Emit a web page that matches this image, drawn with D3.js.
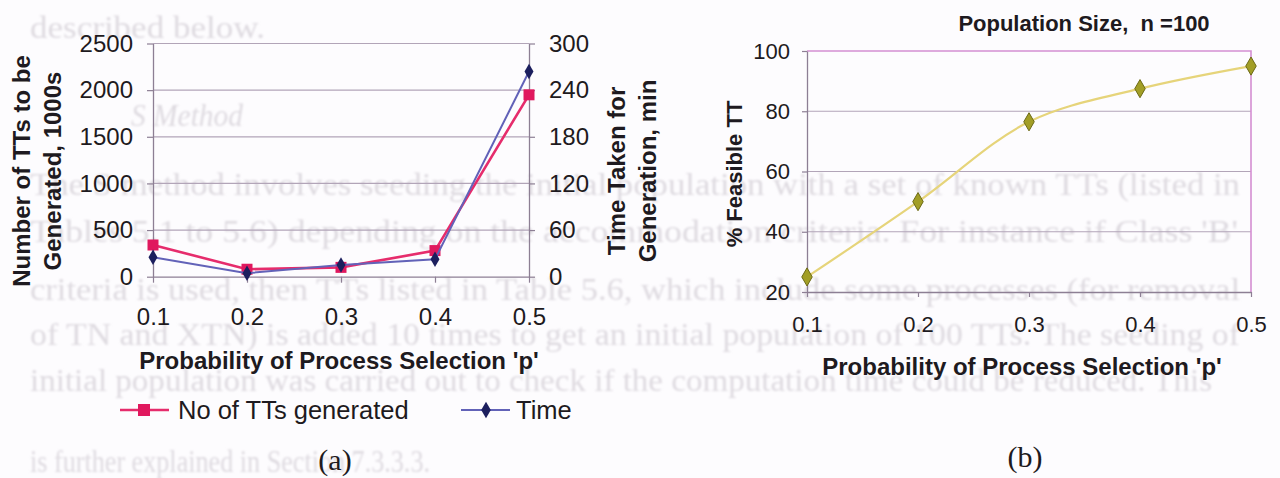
<!DOCTYPE html>
<html>
<head>
<meta charset="utf-8">
<script src="https://cdn.jsdelivr.net/npm/d3@7"></script>
<style>
  html, body { margin: 0; padding: 0; background: #fdfcfe; }
  svg { display: block; }
  text { font-family: "Liberation Sans", Arial, sans-serif; fill: #1e1a20; }
  .serif { font-family: "Liberation Serif", "Times New Roman", serif; }
</style>
</head>
<body>
<svg id="fig" width="1280" height="478"></svg>
<script>
// Probability of process selection (shared category axis)
const categories = ["0.1", "0.2", "0.3", "0.4", "0.5"];

// (a) number of timetables generated (1000s) and generation time (min)
const ttsGenerated = [340, 80, 100, 280, 1950];
const timeTaken = [25, 4.5, 15, 22.4, 264];
const ttsTicks = [0, 500, 1000, 1500, 2000, 2500];
const timeTicks = [0, 60, 120, 180, 240, 300];

// (b) percentage of feasible timetables, population size n = 100
const feasiblePct = [25, 50, 76.5, 87.5, 95];
const feasibleTicks = [20, 40, 60, 80, 100];

// Running text of the page printed behind the figures
const pageLines = [
  "described below.",
  "S Method",
  "The S method involves seeding the initial population with a set of known TTs (listed in",
  "Tables 5.1 to 5.6) depending on the accommodation criteria. For instance if Class 'B'",
  "criteria is used, then TTs listed in Table 5.6, which include some processes (for removal",
  "of TN and XTN) is added 10 times to get an initial population of 100 TTs. The seeding of",
  "initial population was carried out to check if the computation time could be reduced. This",
  "is further explained in Section 7.3.3.3."
];
const pageLayout = [
  { x: 30, y: 38, w: 235 },
  { x: 131, y: 126, w: 112, italic: true },
  { x: 30, y: 195, w: 1210 },
  { x: 30, y: 242, w: 1208 },
  { x: 30, y: 300, w: 1210 },
  { x: 30, y: 345, w: 1210 },
  { x: 30, y: 391, w: 1182 },
  { x: 30, y: 472, w: 400 }
];

const svg = d3.select("#fig");
const defs = svg.append("defs");
defs.append("filter").attr("id", "soft")
  .append("feGaussianBlur").attr("stdDeviation", 0.9);

// ---------- faint page text ----------
svg.append("g").attr("filter", "url(#soft)")
  .selectAll("text").data(pageLines).join("text")
  .attr("class", "serif")
  .attr("x", (d, i) => pageLayout[i].x)
  .attr("y", (d, i) => pageLayout[i].y)
  .attr("textLength", (d, i) => pageLayout[i].w)
  .attr("lengthAdjust", "spacingAndGlyphs")
  .style("font-size", "31px")
  .style("font-style", (d, i) => pageLayout[i].italic ? "italic" : "normal")
  .style("fill", "#dedae0")
  .text(d => d);

const gridCol = "#b2a5b8";
const axisCol = "#8d7f94";

function styleAxis(g, size) {
  g.select(".domain").attr("stroke", axisCol).attr("stroke-width", 1.3);
  g.selectAll(".tick line").attr("stroke", axisCol).attr("stroke-width", 1.2);
  g.selectAll(".tick text").style("font-size", size + "px").style("fill", "#1e1a20")
    .style("font-family", '"Liberation Sans", Arial, sans-serif');
}

// ================= (a) =================
const xA = d3.scalePoint().domain(categories).range([153, 529]);
const yTT = d3.scaleLinear().domain([0, 2500]).range([276.7, 43.5]);
const yTime = d3.scaleLinear().domain([0, 300]).range([276.7, 43.5]);

const a = svg.append("g");

a.append("g").selectAll("line").data(ttsTicks.slice(1)).join("line")
  .attr("x1", xA("0.1")).attr("x2", xA("0.5"))
  .attr("y1", d => yTT(d)).attr("y2", d => yTT(d))
  .attr("stroke", gridCol).attr("stroke-width", 1.2);

const axL = a.append("g").attr("transform", `translate(${xA("0.1")},0)`)
  .call(d3.axisLeft(yTT).tickValues(ttsTicks).tickFormat(d3.format("d"))
    .tickSize(6).tickSizeOuter(0).tickPadding(14));
styleAxis(axL, 24);

const axR = a.append("g").attr("transform", `translate(${xA("0.5")},0)`)
  .call(d3.axisRight(yTime).tickValues(timeTicks).tickFormat(d3.format("d"))
    .tickSize(6).tickSizeOuter(0).tickPadding(14));
styleAxis(axR, 24);

const axB = a.append("g").attr("transform", `translate(0,${yTT(0)})`)
  .call(d3.axisBottom(xA).tickSize(6).tickSizeOuter(0).tickPadding(25));
styleAxis(axB, 24);

const redLine = "#e62c6c", redMark = "#e0185e";
const blueLine = "#6262b8", blueMark = "#1c1f5e";

const lineTT = d3.line().x((d, i) => xA(categories[i])).y(d => yTT(d));
const lineTime = d3.line().x((d, i) => xA(categories[i])).y(d => yTime(d));

a.append("path").datum(ttsGenerated).attr("d", lineTT)
  .attr("fill", "none").attr("stroke", redLine).attr("stroke-width", 2.6);
a.append("g").selectAll("rect").data(ttsGenerated).join("rect")
  .attr("x", (d, i) => xA(categories[i]) - 5.5)
  .attr("y", d => yTT(d) - 5.5)
  .attr("width", 11).attr("height", 11)
  .attr("fill", redMark);

a.append("path").datum(timeTaken).attr("d", lineTime)
  .attr("fill", "none").attr("stroke", blueLine).attr("stroke-width", 2);
const diamond = d3.symbol().type(d3.symbolDiamond);
a.append("g").selectAll("path").data(timeTaken).join("path")
  .attr("d", diamond.size(70))
  .attr("transform", (d, i) => `translate(${xA(categories[i])},${yTime(d)})`)
  .attr("fill", blueMark);

// axis titles
const bold = s => s.style("font-weight", "bold").style("font-size", "24px");
a.append("text").attr("transform", "translate(30,171) rotate(-90)")
  .attr("text-anchor", "middle").call(bold).text("Number of TTs to be");
a.append("text").attr("transform", "translate(61,171) rotate(-90)")
  .attr("text-anchor", "middle").call(bold).text("Generated, 1000s");
a.append("text").attr("transform", "translate(625,171) rotate(-90)")
  .attr("text-anchor", "middle").call(bold).text("Time Taken for");
a.append("text").attr("transform", "translate(656,171) rotate(-90)")
  .attr("text-anchor", "middle").call(bold).text("Generation, min");
a.append("text").attr("x", 339).attr("y", 369)
  .attr("text-anchor", "middle").call(bold).text("Probability of Process Selection 'p'");

// legend
const lg = a.append("g");
lg.append("line").attr("x1", 120).attr("x2", 169).attr("y1", 410).attr("y2", 410)
  .attr("stroke", redLine).attr("stroke-width", 2.6);
lg.append("rect").attr("x", 144 - 6).attr("y", 410 - 6).attr("width", 12).attr("height", 12)
  .attr("fill", redMark);
lg.append("text").attr("x", 178).attr("y", 419).style("font-size", "25.5px")
  .text("No of TTs generated");
lg.append("line").attr("x1", 461).attr("x2", 510).attr("y1", 410).attr("y2", 410)
  .attr("stroke", blueLine).attr("stroke-width", 2);
lg.append("path").attr("d", diamond.size(80)).attr("transform", "translate(486,410)")
  .attr("fill", blueMark);
lg.append("text").attr("x", 516).attr("y", 419).style("font-size", "25.5px").text("Time");

a.append("text").attr("class", "serif").attr("x", 335).attr("y", 470)
  .attr("text-anchor", "middle").style("font-size", "30px").text("(a)");

// ================= (b) =================
const xB = d3.scalePoint().domain(categories).range([807, 1251]);
const yF = d3.scaleLinear().domain([20, 100]).range([292, 51]);

const b = svg.append("g");

b.append("g").selectAll("line").data(feasibleTicks.slice(1, -1)).join("line")
  .attr("x1", xB("0.1")).attr("x2", xB("0.5"))
  .attr("y1", d => yF(d)).attr("y2", d => yF(d))
  .attr("stroke", gridCol).attr("stroke-width", 1.2);

// pink frame on the top and right of the plot area
b.append("path")
  .attr("d", `M${xB("0.1")},${yF(100)}H${xB("0.5")}V${yF(20)}`)
  .attr("fill", "none").attr("stroke", "#d48ed2").attr("stroke-width", 1.6);

const bL = b.append("g").attr("transform", `translate(${xB("0.1")},0)`)
  .call(d3.axisLeft(yF).tickValues(feasibleTicks).tickSize(5).tickSizeOuter(0).tickPadding(12));
styleAxis(bL, 22);
const bB = b.append("g").attr("transform", `translate(0,${yF(20)})`)
  .call(d3.axisBottom(xB).tickSize(5).tickSizeOuter(0).tickPadding(19));
styleAxis(bB, 22);

const lineF = d3.line().curve(d3.curveCatmullRom.alpha(0.5))
  .x((d, i) => xB(categories[i])).y(d => yF(d));
b.append("path").datum(feasiblePct).attr("d", lineF)
  .attr("fill", "none").attr("stroke", "#e6d47a").attr("stroke-width", 2.2);
b.append("g").selectAll("path").data(feasiblePct).join("path")
  .attr("d", diamond.size(95))
  .attr("transform", (d, i) => `translate(${xB(categories[i])},${yF(d)})`)
  .attr("fill", "#a29e26").attr("stroke", "#6c6a16").attr("stroke-width", 1);

b.append("text").attr("x", 1084).attr("y", 31).attr("text-anchor", "middle")
  .style("font-weight", "bold").style("font-size", "22px").style("white-space", "pre")
  .text("Population Size,  n =100");
b.append("text").attr("transform", "translate(742,174) rotate(-90)")
  .attr("text-anchor", "middle").style("font-weight", "bold").style("font-size", "22px")
  .text("% Feasible TT");
b.append("text").attr("x", 1022).attr("y", 375).attr("text-anchor", "middle")
  .call(bold).text("Probability of Process Selection 'p'");

b.append("text").attr("class", "serif").attr("x", 1025).attr("y", 467)
  .attr("text-anchor", "middle").style("font-size", "30px").text("(b)");
</script>
</body>
</html>
